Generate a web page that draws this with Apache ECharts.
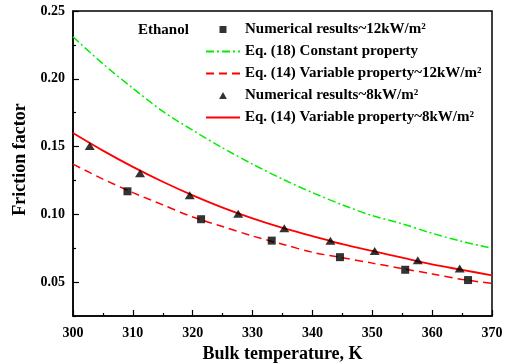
<!DOCTYPE html>
<html>
<head>
<meta charset="utf-8">
<script src="https://cdn.jsdelivr.net/npm/echarts@6/dist/echarts.min.js"></script>
<style>
  html, body { margin: 0; padding: 0; background: #fff; }
  #chart { width: 510px; height: 364px; }
</style>
</head>
<body>
<div id="chart"></div>
<script>
// bulk temperature (K) for the fitted curves
var curveT = [300, 305, 310, 315, 320, 325, 330, 335, 340, 345, 350, 355, 360, 365, 370];
var eq18Const = [0.231, 0.211, 0.193, 0.176, 0.162, 0.149, 0.137, 0.126, 0.116, 0.107, 0.099, 0.093, 0.086, 0.080, 0.075];
var eq14Var12 = [0.137, 0.126, 0.116, 0.107, 0.098, 0.091, 0.084, 0.078, 0.072, 0.068, 0.064, 0.060, 0.056, 0.052, 0.049];
var eq14Var8 = [0.160, 0.147, 0.135, 0.124, 0.114, 0.105, 0.097, 0.090, 0.084, 0.078, 0.073, 0.068, 0.063, 0.059, 0.055];

// numerical results
var num12T = [309.1, 321.4, 333.2, 344.6, 355.5, 366.0];
var num12F = [0.117, 0.0964, 0.0806, 0.0684, 0.0591, 0.0515];
var num8T = [302.8, 311.2, 319.5, 327.6, 335.3, 343.0, 350.4, 357.6, 364.6];
var num8F = [0.1504, 0.1303, 0.1141, 0.1005, 0.0898, 0.0806, 0.0730, 0.0662, 0.0600];

var yMajor = [0.05, 0.10, 0.15, 0.20, 0.25];
var yMinor = [0.025, 0.075, 0.125, 0.175, 0.225];

var names = [
	'Numerical results~12kW/m²',
	'Eq. (18) Constant property',
	'Eq. (14) Variable property~12kW/m²',
	'Numerical results~8kW/m²',
	'Eq. (14) Variable property~8kW/m²'
];

function pairs(xs, ys) {
	return xs.map(function (x, i) { return [x, ys[i]]; });
}

var font = 'Liberation Serif';
var chart = echarts.init(document.getElementById('chart'));

// hide the round marker that line series put on their legend icon
var noDot = { opacity: 0 };

var option = {
	animation: false,
	grid: {
		left: 73,
		right: 18,
		top: 11,
		bottom: 48,
		outerBoundsMode: 'none',
		show: true,
		borderColor: '#000',
		borderWidth: 1.5
	},
	graphic: [{
		type: 'text',
		left: 138,
		top: 23,
		style: {
			text: 'Ethanol',
			font: 'bold 15px "Liberation Serif"',
			fill: '#000'
		}
	}],
	legend: {
		orient: 'vertical',
		left: 205,
		top: 22,
		padding: 0,
		itemWidth: 34,
		itemHeight: 7,
		itemGap: 7,
		textStyle: {
			fontFamily: font,
			fontWeight: 'bold',
			fontSize: 15,
			lineHeight: 15,
			color: '#000'
		},
		data: [
			{ name: names[0], icon: 'path://M0,0h10v10h-10z' },
			{ name: names[1], itemStyle: noDot },
			{ name: names[2], itemStyle: noDot },
			{ name: names[3], icon: 'path://M5,0L10,9L0,9z' },
			{ name: names[4], itemStyle: noDot }
		]
	},
	xAxis: {
		type: 'value',
		min: 300,
		max: 370,
		interval: 10,
		name: 'Bulk temperature, K',
		nameLocation: 'middle',
		nameGap: 21,
		nameTextStyle: { fontFamily: font, fontWeight: 'bold', fontSize: 18, color: '#000' },
		axisLine: { lineStyle: { color: '#000', width: 1.5 } },
		axisTick: { inside: true, length: 6, lineStyle: { color: '#000', width: 1.2 } },
		minorTick: { show: true, splitNumber: 2, length: 3, lineStyle: { color: '#000', width: 1.2 } },
		axisLabel: { margin: 10, fontFamily: font, fontWeight: 'bold', fontSize: 14, color: '#000' },
		splitLine: { show: false }
	},
	yAxis: [{
		type: 'value',
		min: 0.025,
		max: 0.25,
		interval: 0.025,
		name: 'Friction factor',
		nameLocation: 'middle',
		nameGap: 42,
		nameTextStyle: {
			fontFamily: font,
			fontWeight: 'bold',
			fontSize: 18,
			color: '#000',
			padding: [0, 0, 0, 8]
		},
		axisLine: { lineStyle: { color: '#000', width: 1.5 } },
		axisTick: { inside: true, length: 6, customValues: yMajor, lineStyle: { color: '#000', width: 1.2 } },
		axisLabel: {
			margin: 8,
			customValues: yMajor,
			fontFamily: font,
			fontWeight: 'bold',
			fontSize: 14,
			color: '#000',
			formatter: function (v) { return v.toFixed(2); }
		},
		splitLine: { show: false }
	}, {
		type: 'value',
		position: 'left',
		min: 0.025,
		max: 0.25,
		interval: 0.025,
		axisLine: { show: false },
		axisTick: { inside: true, length: 3, customValues: yMinor, lineStyle: { color: '#000', width: 1.2 } },
		axisLabel: { show: false },
		splitLine: { show: false }
	}],
	series: [{
		name: names[0],
		type: 'scatter',
		symbol: 'rect',
		symbolSize: 8,
		itemStyle: { color: '#000' },
		data: pairs(num12T, num12F),
		z: 5
	}, {
		name: names[1],
		type: 'line',
		smooth: 0.3,
		symbol: 'none',
		lineStyle: { color: '#00ee00', width: 1.5, type: [8, 3, 2, 3] },
		itemStyle: { color: '#00ee00' },
		data: pairs(curveT, eq18Const)
	}, {
		name: names[2],
		type: 'line',
		smooth: 0.3,
		symbol: 'none',
		lineStyle: { color: '#ff0000', width: 1.5, type: [8, 5] },
		itemStyle: { color: '#ff0000' },
		data: pairs(curveT, eq14Var12)
	}, {
		name: names[3],
		type: 'scatter',
		symbol: 'triangle',
		symbolSize: [10, 8],
		itemStyle: { color: '#000' },
		data: pairs(num8T, num8F),
		z: 5
	}, {
		name: names[4],
		type: 'line',
		smooth: 0.3,
		symbol: 'none',
		lineStyle: { color: '#ff0000', width: 1.8 },
		itemStyle: { color: '#ff0000' },
		data: pairs(curveT, eq14Var8)
	}]
};

chart.setOption(option);
</script>
</body>
</html>
